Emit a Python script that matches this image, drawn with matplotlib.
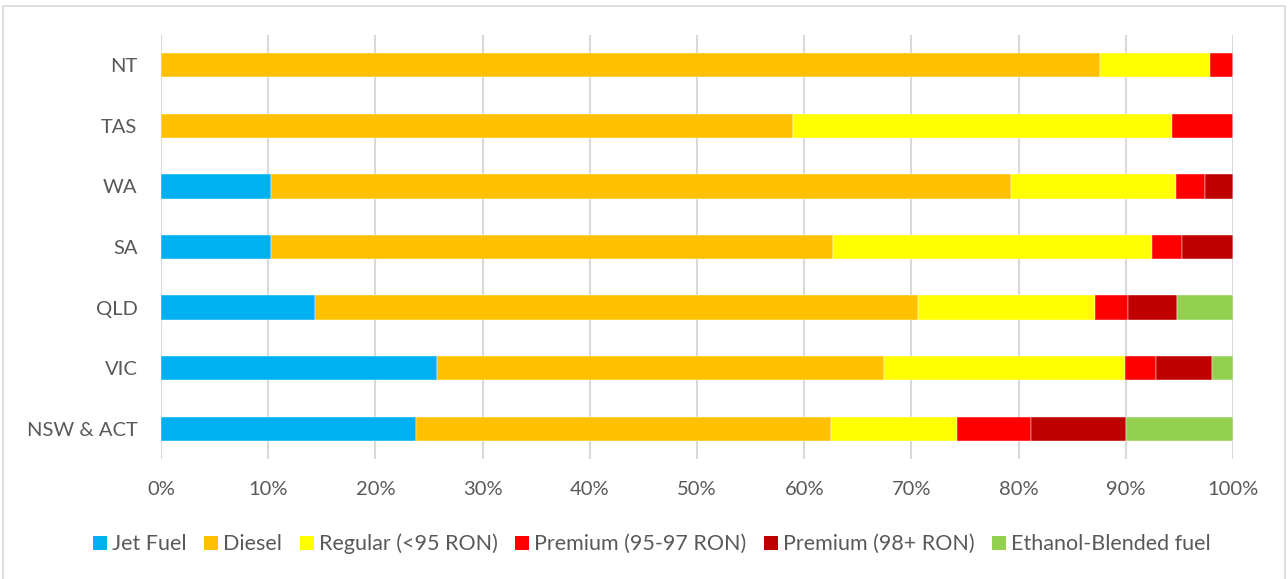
import matplotlib
matplotlib.use("Agg")
import matplotlib.pyplot as plt
from matplotlib.patches import Rectangle, Patch
from matplotlib.ticker import PercentFormatter, MultipleLocator
import numpy as np

plt.rcParams['font.family'] = ['Lato', 'DejaVu Sans']

regions = ["NSW & ACT", "VIC", "QLD", "SA", "WA", "TAS", "NT"]

fuel_types = ["Jet Fuel", "Diesel", "Regular (<95 RON)", "Premium (95-97 RON)",
              "Premium (98+ RON)", "Ethanol-Blended fuel"]

# share of each fuel type (%) per region, in the order of `regions`
jet_fuel = [23.8, 25.7, 14.4, 10.3, 10.3, 0.0, 0.0]
diesel = [38.7, 41.7, 56.2, 52.4, 69.0, 59.0, 87.6]
regular = [11.8, 22.5, 16.5, 29.7, 15.4, 35.3, 10.3]
premium_95_97 = [6.9, 2.9, 3.1, 2.8, 2.7, 5.7, 2.1]
premium_98 = [8.8, 5.2, 4.6, 4.8, 2.6, 0.0, 0.0]
ethanol = [10.0, 2.0, 5.2, 0.0, 0.0, 0.0, 0.0]

series = [jet_fuel, diesel, regular, premium_95_97, premium_98, ethanol]
colors = ["#00B0F0", "#FFC000", "#FFFF00", "#FF0000", "#C00000", "#92D050"]

W, H = 1288, 579
fig = plt.figure(figsize=(W / 100, H / 100), dpi=100)
ax = fig.add_axes([161 / W, 1 - 459 / H, (1233 - 161) / W, (459 - 35) / H])

y = np.arange(len(regions))
left = np.zeros(len(regions))
for vals, col, name in zip(series, colors, fuel_types):
    vals = np.array(vals)
    ax.barh(y, vals, left=left, height=0.4, color=col, label=name,
            edgecolor="white", linewidth=0.3, zorder=3)
    left += vals

ax.set_xlim(0, 100)
ax.set_ylim(-0.5, len(regions) - 0.5)
ax.set_yticks(y)
ax.set_yticklabels(regions)
ax.xaxis.set_major_locator(MultipleLocator(10))
ax.xaxis.set_major_formatter(PercentFormatter(decimals=0))
ax.grid(axis="x", color="#D9D9D9", linewidth=1.5, zorder=0)
ax.grid(axis="y", visible=False)
for s in ax.spines.values():
    s.set_visible(False)
ax.tick_params(axis="both", length=0, labelsize=14.5, labelcolor="#595959")
ax.tick_params(axis="y", pad=17)
ax.tick_params(axis="x", pad=16)

handles = [Patch(facecolor=c, edgecolor="none") for c in colors]
fig.legend(handles, fuel_types, loc="center", bbox_to_anchor=(652 / W, 1 - 544 / H),
           ncol=6, frameon=False, fontsize=15.5, labelcolor="#595959",
           handlelength=0.65, handleheight=0.65, handletextpad=0.25,
           columnspacing=0.8)

# outer chart frame
fig.patches.append(Rectangle((3 / W, -0.02), (1285 - 3) / W, 1 - 6 / H + 0.02,
                             transform=fig.transFigure, fill=False,
                             edgecolor="#D9D9D9", linewidth=1.2))

fig.savefig("out.png", dpi=100)
